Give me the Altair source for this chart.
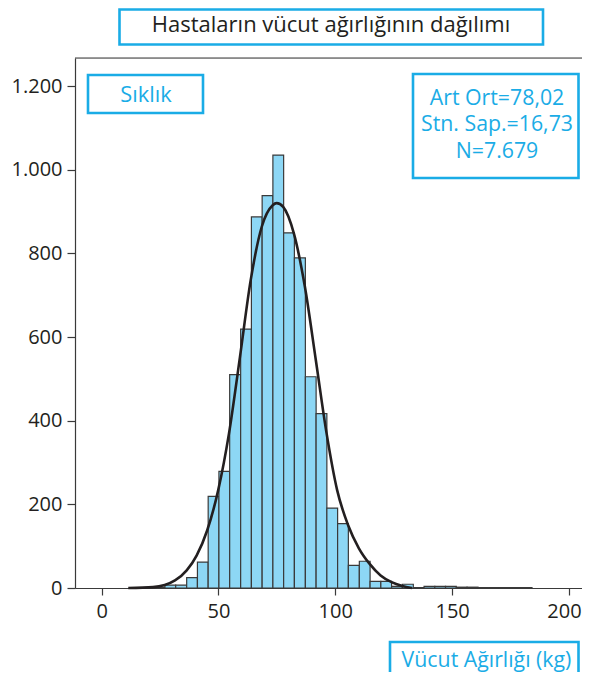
import altair as alt
import pandas as pd

# ---- data ----
bin_start = [22.5, 27.1, 31.7, 36.4, 41.0, 45.6, 50.2, 54.8, 59.5, 64.1,
             68.7, 73.3, 77.9, 82.5, 87.2, 91.8, 96.4, 101.0, 105.6, 110.3,
             114.9, 119.5, 124.1, 128.7, 133.4, 138.0, 142.6, 147.2, 151.8, 156.4,
             161.1, 165.7, 170.3, 174.9, 179.5]
last_edge = 184.2
counts = [2, 7, 7, 25, 62, 219, 279, 510, 619, 887,
          938, 1035, 849, 789, 505, 417, 191, 154, 54, 64,
          16, 16, 4, 9, 1, 4, 4, 4, 2, 2,
          1, 1, 1, 1, 1]

curve_x = [11.4, 22.0, 31.4, 36.4, 40.7, 45.2, 49.9, 54.5, 59.2, 63.8, 68.5,
           73.2, 74.9, 77.7, 82.3, 87.0, 91.7, 96.3, 100.8, 105.5, 110.1,
           114.8, 119.4, 124.1, 128.7, 132.8]
curve_y = [0, 2, 18, 42, 78, 138, 234, 369, 552, 736, 863,
           915, 920, 911, 847, 720, 544, 369, 234, 150, 95,
           57, 30, 14, 5, 0]

x_ticks = [0, 50, 100, 150, 200]
y_ticks = [0, 200, 400, 600, 800, 1000, 1200]

title_text = "Hastaların vücut ağırlığının dağılımı"
y_title = "Sıklık"
x_title = "Vücut Ağırlığı (kg)"
stats_lines = ["Art Ort=78,02", "Stn. Sap.=16,73", "N=7.679"]

# ---- layout / style ----
W, H = 507, 530
FONT = "Open Sans"
CYAN = "#1AACE6"
DARK = "#231F20"
LINE = "#3a3a3a"

bars_df = pd.DataFrame({
    "start": bin_start,
    "end": bin_start[1:] + [last_edge],
    "count": counts,
})
curve_df = pd.DataFrame({"x": curve_x, "y": curve_y})

xscale = alt.Scale(domain=[-11.4, 205.6], nice=False, zero=False)
yscale = alt.Scale(domain=[0, 1267], nice=False)

bars = alt.Chart(bars_df).mark_rect(
    fill="#8DD7F5", stroke=LINE, strokeWidth=1.2, opacity=1
).encode(
    x=alt.X("start:Q", scale=xscale,
            axis=alt.Axis(values=x_ticks, title=None, grid=False, tickSize=7,
                          labelPadding=6, labelFontSize=20, labelFont=FONT,
                          labelColor=DARK, domainColor=LINE, tickColor=LINE,
                          domainWidth=1.2, tickWidth=1.2, labelBound=False,
                          labelOffset={"expr": "datum.value == 200 ? -5 : 0"})),
    x2="end:Q",
    y=alt.Y("count:Q", scale=yscale,
            axis=alt.Axis(values=y_ticks, title=None, grid=False, tickSize=8,
                          labelPadding=5, labelFontSize=20, labelFont=FONT,
                          labelColor=DARK, domainColor=LINE, tickColor=LINE,
                          domainWidth=1.2, tickWidth=1.2,
                          labelExpr="replace(format(datum.value, ','), ',', '.')")),
    y2=alt.datum(0),
)

curve = alt.Chart(curve_df).mark_line(
    color=DARK, strokeWidth=2.6, interpolate="monotone"
).encode(x=alt.X("x:Q", scale=xscale), y=alt.Y("y:Q", scale=yscale))

one = alt.Data(values=[{"a": 1}])

top_border = alt.Chart(one).mark_rule(color=LINE, strokeWidth=1.2).encode(
    x=alt.value(0), x2=alt.value(W), y=alt.value(0))


def box(x1, x2, y1, y2):
    return alt.Chart(one).mark_rect(
        fill="white", stroke=CYAN, strokeWidth=2.6
    ).encode(x=alt.value(x1), x2=alt.value(x2), y=alt.value(y1), y2=alt.value(y2))


def label(txt, x, y, color, size=21.3):
    return alt.Chart(one).mark_text(
        text=txt, font=FONT, fontSize=size, color=color,
        align="center", baseline="middle"
    ).encode(x=alt.value(x), y=alt.value(y))


layers = [
    bars, curve, top_border,
    box(44.5, 468, -48.5, -13.5), label(title_text, 256, -33, DARK, 22),
    box(13, 128, 17, 55), label(y_title, 71, 37, CYAN, 21.8),
    box(338, 503.5, 16, 120),
    label(stats_lines[0], 422, 40.5, CYAN),
    label(stats_lines[1], 422, 67, CYAN),
    label(stats_lines[2], 422, 93.5, CYAN),
    box(315, 503.5, 584, 670), label(x_title, 411.5, 603, CYAN),
]

chart = alt.layer(*layers).properties(
    width=W, height=H,
    autosize=alt.AutoSizeParams(type="none"),
    padding={"left": 67, "top": 50, "right": 0, "bottom": 84},
).configure_view(stroke=None).configure(font=FONT)

chart.save("out.html", embed_options={"renderer": "svg", "actions": False})
